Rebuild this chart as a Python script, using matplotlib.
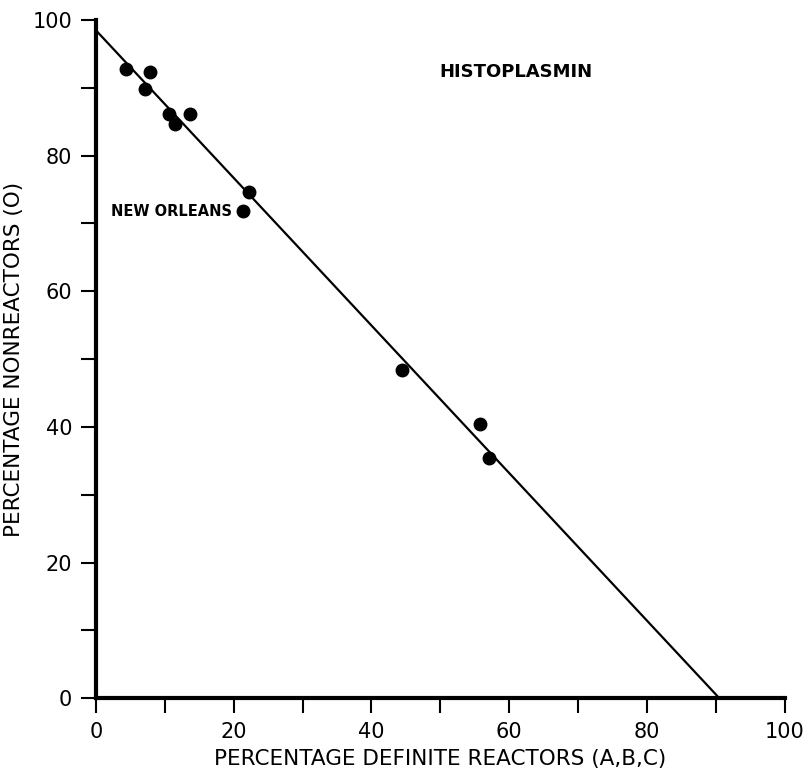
"""
Histoplasmin: percentage of nonreactors against percentage of
definite reactors, with a fitted straight line.
"""

import matplotlib.pyplot as plt
from matplotlib.ticker import MultipleLocator

# points
reactors = [4.4, 7.8, 7.1, 10.6, 13.6, 11.5, 22.2, 21.3, 44.4, 55.7, 57.0]
nonreactors = [92.8, 92.3, 89.8, 86.1, 86.1, 84.7, 74.6, 71.8, 48.4, 40.4, 35.4]

# fitted line end points
line_x = [0, 90.5]
line_y = [98.5, 0]

fig = plt.figure(figsize=(8.05, 7.69), dpi=100)
ax = fig.add_axes([0.119, 0.092, 0.856, 0.882])

ax.plot(line_x, line_y, color="black", lw=1.6)
ax.plot(reactors, nonreactors, "o", color="black", ms=9)

ax.text(61, 92.3, "HISTOPLASMIN", ha="center", va="center",
        fontsize=13, fontweight="bold")
ax.text(19.7, 71.8, "NEW ORLEANS", ha="right", va="center",
        fontsize=10.5, fontweight="bold")

ax.set_xlim(0, 100)
ax.set_ylim(0, 100)
ax.xaxis.set_major_locator(MultipleLocator(20))
ax.xaxis.set_minor_locator(MultipleLocator(10))
ax.yaxis.set_major_locator(MultipleLocator(20))
ax.yaxis.set_minor_locator(MultipleLocator(10))

for side in ["top", "right"]:
    ax.spines[side].set_visible(False)
for side in ["left", "bottom"]:
    ax.spines[side].set_linewidth(3)

ax.tick_params(which="both", direction="out", length=11, width=1.5,
               labelsize=15, pad=6)

ax.set_xlabel("PERCENTAGE DEFINITE REACTORS (A,B,C)", fontsize=15.5,
              labelpad=5)
ax.set_ylabel("PERCENTAGE NONREACTORS (O)", fontsize=15.5, labelpad=6)

for artist in ax.lines:
    artist.set_clip_on(False)

plt.savefig("out.png", dpi=100)
